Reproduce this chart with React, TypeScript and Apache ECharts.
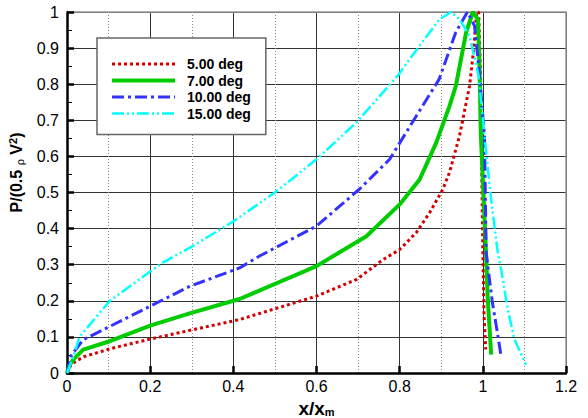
import React, { useEffect, useRef } from "react";
import * as echarts from "echarts";

const seriesNames = ["5.00 deg", "7.00 deg", "10.00 deg", "15.00 deg"];

const deg5: number[][] = [
  [0, 0], [0.005, 0.015], [0.015, 0.028], [0.04, 0.045], [0.103, 0.067], [0.2, 0.094],
  [0.295, 0.118], [0.415, 0.148], [0.6, 0.213], [0.696, 0.259], [0.76, 0.314],
  [0.8, 0.342], [0.84, 0.389], [0.872, 0.444], [0.904, 0.509], [0.92, 0.556],
  [0.944, 0.657], [0.968, 0.795], [0.978, 0.897], [0.985, 1.0], [0.99, 1.0],
  [0.994, 0.85], [0.996, 0.667], [1.0, 0.342], [1.003, 0.157], [1.007, 0.065],
];

const deg7: number[][] = [
  [0, 0], [0.005, 0.02], [0.015, 0.037], [0.039, 0.065], [0.103, 0.088], [0.2, 0.131],
  [0.295, 0.165], [0.415, 0.205], [0.6, 0.296], [0.72, 0.379], [0.8, 0.467],
  [0.848, 0.536], [0.888, 0.638], [0.92, 0.74], [0.935, 0.795], [0.96, 0.944],
  [0.976, 1.0], [0.988, 0.98], [0.992, 0.851], [0.995, 0.667], [1.008, 0.324],
  [1.012, 0.203], [1.02, 0.051],
];

const deg10: number[][] = [
  [0, 0], [0.011, 0.05], [0.039, 0.092], [0.103, 0.129], [0.2, 0.185], [0.295, 0.24],
  [0.415, 0.291], [0.463, 0.324], [0.6, 0.407], [0.703, 0.509], [0.776, 0.592],
  [0.84, 0.712], [0.895, 0.814], [0.935, 0.944], [0.963, 1.0], [0.98, 0.962],
  [0.99, 0.851], [1.004, 0.657], [1.008, 0.333], [1.023, 0.195], [1.035, 0.112],
  [1.044, 0.046],
];

const deg15: number[][] = [
  [0, 0], [0.015, 0.045], [0.03, 0.1], [0.103, 0.2], [0.175, 0.26], [0.23, 0.306],
  [0.3, 0.35], [0.4, 0.42], [0.5, 0.5], [0.6, 0.592], [0.696, 0.694], [0.795, 0.823],
  [0.83, 0.879], [0.896, 0.98], [0.924, 1.0], [0.944, 0.98], [0.968, 0.934],
  [0.99, 0.823], [1.004, 0.657], [1.02, 0.48], [1.035, 0.342], [1.044, 0.287],
  [1.06, 0.176], [1.076, 0.093], [1.104, 0.023],
];

const FONT = "'Liberation Sans', Arial, sans-serif";

export default function App() {
  const ref = useRef<HTMLDivElement>(null);
  useEffect(() => {
    if (!ref.current) return;
    const chart = echarts.init(ref.current, null, { renderer: "svg" });
    const mk = (name: string, data: number[][], color: string, width: number, type: any) => ({
      name,
      type: "line",
      data,
      showSymbol: false,
      symbol: "none",
      smooth: false,
      lineStyle: { color, width, type },
      itemStyle: { color },
      z: 3,
    });
    chart.setOption({
      animation: false,
      backgroundColor: "#fff",
      textStyle: { fontFamily: FONT },
      grid: { left: 67, right: 22, top: 12, bottom: 45, outerBoundsMode: "none", containLabel: false },
      legend: {
        orient: "vertical",
        left: 97,
        top: 38,
        padding: [19, 15, 14, 13],
        itemWidth: 63,
        itemHeight: 14,
        itemGap: 2.5,
        backgroundColor: "#fff",
        borderColor: "#666",
        borderWidth: 1.5,
        borderRadius: 0,
        textStyle: { fontFamily: FONT, fontWeight: "bold", fontSize: 14, color: "#000", padding: [0, 0, 0, 7] },
        lineStyle: { width: "inherit" },
        itemStyle: { opacity: 0 },
        data: seriesNames,
      },
      xAxis: [
        {
          type: "value",
          min: 0,
          max: 1.2,
          interval: 0.2,
          name: "{a|x/x}{m|m}",
          nameLocation: "middle",
          nameGap: 22,
          nameTextStyle: {
            rich: {
              a: { fontFamily: FONT, fontWeight: "bold", fontSize: 19, lineHeight: 19, color: "#000", verticalAlign: "top" },
              m: { fontFamily: FONT, fontWeight: "bold", fontSize: 11, lineHeight: 11, color: "#000", verticalAlign: "bottom" },
            },
          },
          axisLine: { show: true, onZero: false, lineStyle: { color: "#000", width: 2.5 } },
          axisTick: { show: true, inside: true, length: 7, lineStyle: { color: "#000", width: 2.5 } },
          minorTick: { show: false, splitNumber: 2 },
          axisLabel: { color: "#000", fontSize: 16, fontFamily: FONT, margin: 5 },
          splitLine: { show: true, lineStyle: { color: "#333", width: 1 } },
          minorSplitLine: { show: true, lineStyle: { color: "#888", width: 1, type: [1, 2] } },
        },
        {
          type: "value",
          position: "top",
          min: 0,
          max: 1.2,
          interval: 0.2,
          axisLine: { show: true, onZero: false, lineStyle: { color: "#999", width: 1.5 } },
          axisTick: { show: false },
          axisLabel: { show: false },
          splitLine: { show: false },
        },
      ],
      yAxis: [
        {
          type: "value",
          min: 0,
          max: 1,
          interval: 0.1,
          name: "{a|P/(0.5 }{r|ρ}{a| V}{s|2}{a|)}",
          nameLocation: "middle",
          nameGap: 40,
          nameTextStyle: {
            padding: [0, 0, 0, 40],
            rich: {
              a: { fontFamily: FONT, fontWeight: "bold", fontSize: 16, lineHeight: 18, color: "#000", verticalAlign: "middle" },
              r: { fontFamily: FONT, fontWeight: "normal", fontSize: 11, lineHeight: 12, color: "#000", verticalAlign: "bottom" },
              s: { fontFamily: FONT, fontWeight: "bold", fontSize: 11, lineHeight: 11, color: "#000", verticalAlign: "top" },
            },
          },
          axisLine: { show: true, onZero: false, lineStyle: { color: "#000", width: 2.5 } },
          axisTick: { show: true, inside: true, length: 7, lineStyle: { color: "#000", width: 2.5 } },
          minorTick: { show: true, splitNumber: 2, length: 5, lineStyle: { color: "#000", width: 1 } },
          axisLabel: { color: "#000", fontSize: 16, fontFamily: FONT, margin: 8 },
          splitLine: { show: true, lineStyle: { color: "#333", width: 1 } },
          minorSplitLine: { show: false },
        },
        {
          type: "value",
          position: "right",
          min: 0,
          max: 1,
          interval: 0.1,
          axisLine: { show: true, onZero: false, lineStyle: { color: "#999", width: 1.5 } },
          axisTick: { show: false },
          axisLabel: { show: false },
          splitLine: { show: false },
        },
      ],
      series: [
        mk(seriesNames[0], deg5, "#d40000", 3, [3, 3]),
        mk(seriesNames[1], deg7, "#00cc00", 4, "solid"),
        mk(seriesNames[2], deg10, "#3333ff", 3, [12, 4, 3, 4]),
        mk(seriesNames[3], deg15, "#00ffff", 2.5, [12, 3, 2, 3, 2, 3]),
      ],
    });
    return () => chart.dispose();
  }, []);
  return <div ref={ref} style={{ width: 588, height: 418, position: "absolute", left: 0, top: 0 }} />;
}
